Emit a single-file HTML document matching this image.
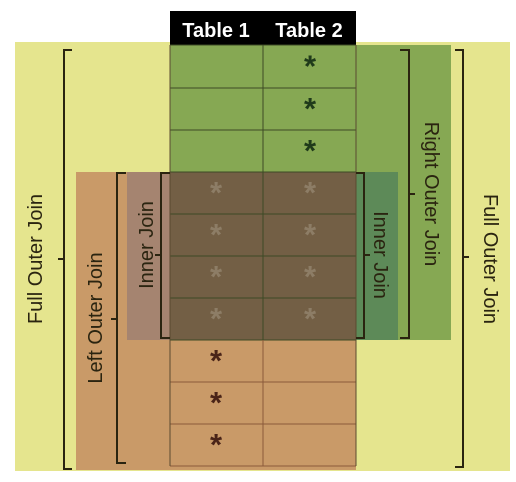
<!DOCTYPE html>
<html><head><meta charset="utf-8"><style>
html,body{margin:0;padding:0;background:#fff;width:516px;height:482px;overflow:hidden}
text{font-family:"Liberation Sans",sans-serif}
</style></head><body>
<svg width="516" height="482" viewBox="0 0 516 482">
<rect x="15" y="42" width="495" height="429" fill="#e5e58e"/>
<rect x="76" y="172" width="280" height="298" fill="#c99a68"/>
<rect x="170" y="45" width="281" height="295" fill="#86a853"/>
<rect x="127" y="172" width="43" height="168" fill="#a58470"/>
<rect x="356" y="172" width="42" height="168" fill="#5d8a58"/>
<rect x="170" y="172" width="186" height="168" fill="#735f45"/>
<rect x="170" y="11" width="186" height="34" fill="#000"/>
<text x="216" y="37" font-size="20" font-weight="bold" fill="#fff" text-anchor="middle">Table 1</text>
<text x="309" y="37" font-size="20" font-weight="bold" fill="#fff" text-anchor="middle">Table 2</text>
<g id="grid"></g>
<g id="stars"></g>
<g fill="none" stroke="#2a2410" stroke-width="2">
<path d="M72 50 H64 V469 H72 M64 259 H58"/>
<path d="M455 50 H463 V467 H455 M463 257 H469"/>
<path d="M126 173 H117 V463 H126 M117 319 H111"/>
<path d="M170 173 H161 V338 H170 M161 255 H155"/>
<path d="M356 173 H364 V338 H356 M364 255 H370"/>
<path d="M400 50 H409 V338 H400 M409 194 H415"/>
</g>
<g font-size="20" fill="#2a2410">
<text transform="translate(42,259) rotate(-90)" text-anchor="middle">Full Outer Join</text>
<text transform="translate(484,259) rotate(90)" text-anchor="middle">Full Outer Join</text>
<text transform="translate(102,318) rotate(-90)" text-anchor="middle">Left Outer Join</text>
<text transform="translate(153,245) rotate(-90)" text-anchor="middle">Inner Join</text>
<text transform="translate(374,255) rotate(90)" text-anchor="middle">Inner Join</text>
<text transform="translate(425,194) rotate(90)" text-anchor="middle">Right Outer Join</text>
</g>
</svg>
<script>
const rowTops=[45,88,130,172,214,256,298,340,382,424,466];
const t1Rows=[3,4,5,6,7,8,9];
const t2Rows=[0,1,2,3,4,5,6];
const ns='http://www.w3.org/2000/svg';
const grid=document.getElementById('grid');
function line(x1,y1,x2,y2,c){const l=document.createElementNS(ns,'line');
l.setAttribute('x1',x1);l.setAttribute('y1',y1);l.setAttribute('x2',x2);l.setAttribute('y2',y2);
l.setAttribute('stroke',c);l.setAttribute('stroke-width','1');


grid.appendChild(l);}
rowTops.forEach(y=>{line(170,y,356,y,y<=340?'#3d4a25':'#8a5a3a');});
line(263,45,263,340,'#3d4a25');line(263,340,263,466,'#8a5a3a');
line(170,45,170,466,'#5a4a30');line(356,45,356,466,'#5a4a30');
const stars=document.getElementById('stars');
function star(x,r){const y=(rowTops[r]+rowTops[r+1])/2+10;const t=document.createElementNS(ns,'text');
t.setAttribute('x',x);t.setAttribute('y',y);t.setAttribute('text-anchor','middle');t.setAttribute('font-size','31');
t.setAttribute('font-weight','bold');
t.setAttribute('fill',(r>=3&&r<=6)?'#8d7d66':(r<3?'#1f3a1a':'#4a2418'));
t.textContent='*';


stars.appendChild(t);}
t1Rows.forEach(r=>star(216,r));t2Rows.forEach(r=>star(310,r));
</script>
</body></html>
